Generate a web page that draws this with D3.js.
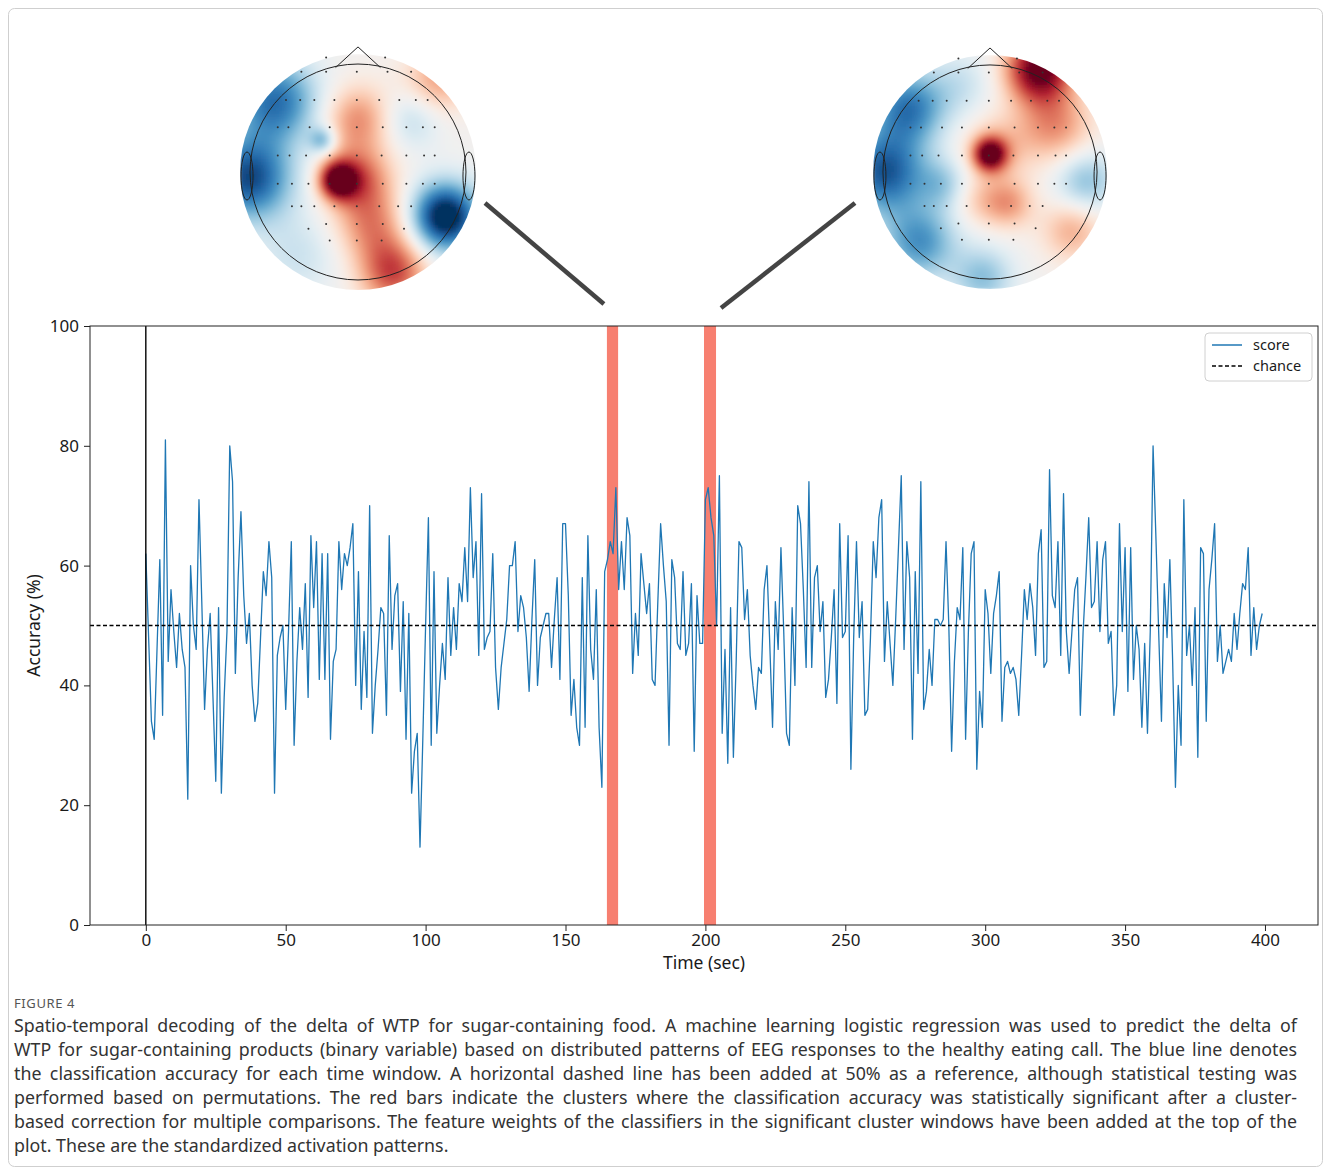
<!DOCTYPE html>
<html>
<head>
<meta charset="utf-8">
<script src="https://cdn.jsdelivr.net/npm/d3@7"></script>
<style>
  body { margin: 0; background: #fff; }
  svg text { font-family: "Noto Sans", "Open Sans", sans-serif; }
</style>
</head>
<body>
<svg id="fig" width="1331" height="1175"></svg>
<script>
// decoding accuracy, one value per second (0..399)
var times = d3.range(0, 400);
var score = [
  62,48,34,31,46,61,35,81,44,56,49,43,52,46,43,21,60,50,46,71,54,36,46,52,38,24,53,22,38,49,80,74,42,58,69,55,47,52,40,34,
  37,48,59,55,64,58,22,45,48,50,36,49,64,30,44,53,46,57,38,65,53,64,41,62,41,62,31,44,46,64,56,62,60,63,67,40,59,36,49,
  38,70,32,40,46,53,52,35,65,46,55,57,39,54,31,52,22,29,32,13,31,50,68,30,59,32,40,47,41,58,45,53,46,57,54,63,54,73,58,
  64,45,72,46,48,49,62,43,36,43,47,51,60,60,64,49,55,53,48,39,51,61,40,48,50,52,52,43,51,58,41,67,67,55,35,41,33,30,
  58,33,65,46,41,56,33,23,59,61,64,62,73,56,64,56,68,65,42,52,45,62,57,52,57,41,40,54,67,60,54,30,61,58,47,46,59,45,47,57,
  29,55,47,47,71,73,68,65,50,75,32,46,27,53,28,44,64,63,51,56,45,40,36,43,42,56,60,47,33,54,46,63,49,32,30,53,40,70,67,
  56,43,74,43,58,60,49,54,38,41,48,56,37,67,48,49,65,26,48,64,48,54,35,36,48,64,58,68,71,44,54,47,40,51,63,75,46,64,58,31,59,
  42,74,36,39,46,40,51,51,50,51,64,50,29,44,53,51,63,31,49,62,64,26,39,33,56,52,42,52,55,59,34,43,44,42,43,41,35,45,56,
  51,57,53,45,62,66,43,44,76,55,53,64,45,72,49,42,49,56,58,35,49,58,68,53,54,64,49,61,64,47,49,35,40,67,49,63,39,63,41,
  50,46,33,47,32,49,80,65,49,34,57,48,61,44,23,40,30,71,45,50,40,53,28,63,62,34,56,61,67,44,50,42,44,46,44,52,46,52,57,56,63,45,53,46,50,52
];
var chance = 50;
var clusterStart = [164.8, 199.5];
var clusterEnd = [168.8, 203.8];
var xTicks = [0, 50, 100, 150, 200, 250, 300, 350, 400];
var yTicks = [0, 20, 40, 60, 80, 100];

// topomap weights, as gaussian blobs: [x, y, amplitude, width] in head units
var leftBlobs = [
  [-0.17, 0.07, 1.0, 0.11], [0.0, 0.05, 0.55, 0.2], [0.0, -0.45, 0.45, 0.2],
  [0.12, 0.45, 0.45, 0.22], [0.3, 0.85, 0.65, 0.2], [0.74, 0.38, -1.15, 0.2],
  [-0.92, 0.05, -0.9, 0.25], [-0.7, -0.6, -0.75, 0.25], [-0.3, -0.27, -0.45, 0.08],
  [0.68, -0.78, 0.4, 0.2], [0.45, -0.45, -0.25, 0.18], [-0.5, 0.7, -0.2, 0.25]
];
var rightBlobs = [
  [0.42, -0.88, 1.05, 0.2], [0.55, -0.4, 0.45, 0.22], [0.0, -0.15, 0.95, 0.1],
  [0.05, -0.2, 0.3, 0.2], [0.16, 0.27, 0.4, 0.15], [-0.1, 0.25, 0.2, 0.15],
  [0.7, 0.5, 0.35, 0.18], [-0.9, 0.0, -0.85, 0.25], [-0.7, -0.55, -0.7, 0.22],
  [-0.6, 0.6, -0.6, 0.22], [0.82, 0.08, -0.4, 0.18], [-0.06, 0.9, -0.4, 0.18],
  [-0.4, 0.1, -0.3, 0.15], [-0.25, -0.75, -0.2, 0.2]
];
// electrode rows (y) and their x positions
var sensorRowY = [-0.97, -0.85, -0.61, -0.38, -0.14, 0.1, 0.29, 0.44, 0.48, 0.58];
var sensorRowX = [
  [-0.27, 0.23],
  [-0.48, -0.27, -0.01, 0.25, 0.45],
  [-0.61, -0.49, -0.37, -0.2, -0.01, 0.18, 0.35, 0.49, 0.59],
  [-0.68, -0.59, -0.41, -0.24, -0.01, 0.21, 0.41, 0.55, 0.65],
  [-0.68, -0.58, -0.44, -0.24, -0.01, 0.2, 0.41, 0.56, 0.65],
  [-0.68, -0.56, -0.42, -0.24, -0.01, 0.21, 0.41, 0.55, 0.65],
  [-0.56, -0.48, -0.37, -0.2, -0.01, 0.18, 0.34, 0.45],
  [-0.27, -0.01, 0.21],
  [-0.42, 0.39],
  [-0.24, -0.01, 0.2]
];

var captionTitle = "FIGURE 4";
var captionLines = [
  "Spatio-temporal decoding of the delta of WTP for sugar-containing food. A machine learning logistic regression was used to predict the delta of",
  "WTP for sugar-containing products (binary variable) based on distributed patterns of EEG responses to the healthy eating call. The blue line denotes",
  "the classification accuracy for each time window. A horizontal dashed line has been added at 50% as a reference, although statistical testing was",
  "performed based on permutations. The red bars indicate the clusters where the classification accuracy was statistically significant after a cluster-",
  "based correction for multiple comparisons. The feature weights of the classifiers in the significant cluster windows have been added at the top of the",
  "plot. These are the standardized activation patterns."
];

var svg = d3.select("#fig");

// outer frame
svg.append("rect")
  .attr("x", 8.5).attr("y", 8.5)
  .attr("width", 1314).attr("height", 1158)
  .attr("rx", 6)
  .attr("fill", "none")
  .attr("stroke", "#cfcfcf");

// plot area
var x = d3.scaleLinear().domain([-19.95, 418.95]).range([90, 1318]);
var y = d3.scaleLinear().domain([0, 100]).range([925, 326]);

var defs = svg.append("defs");
defs.append("clipPath").attr("id", "plotClip")
  .append("rect").attr("x", 90).attr("y", 326).attr("width", 1228).attr("height", 599);

var plot = svg.append("g").attr("clip-path", "url(#plotClip)");

// significant clusters
plot.selectAll(".cluster")
  .data(d3.range(clusterStart.length))
  .enter().append("rect")
    .attr("class", "cluster")
    .attr("x", function(i) { return x(clusterStart[i]); })
    .attr("width", function(i) { return x(clusterEnd[i]) - x(clusterStart[i]); })
    .attr("y", y(100))
    .attr("height", y(0) - y(100))
    .attr("fill", "#f77f70");

// score line
var line = d3.line()
  .x(function(d, i) { return x(times[i]); })
  .y(function(d) { return y(d); });

plot.append("path")
  .datum(score)
  .attr("d", line)
  .attr("fill", "none")
  .attr("stroke", "#1f77b4")
  .attr("stroke-width", 1.3)
  .attr("stroke-linejoin", "round");

// chance level
plot.append("line")
  .attr("x1", 90).attr("x2", 1318)
  .attr("y1", y(chance)).attr("y2", y(chance))
  .attr("stroke", "#000")
  .attr("stroke-width", 1.3)
  .attr("stroke-dasharray", "4,2.5");

// stimulus onset
plot.append("line")
  .attr("x1", x(0)).attr("x2", x(0))
  .attr("y1", y(0)).attr("y2", y(100))
  .attr("stroke", "#000")
  .attr("stroke-width", 1.4);

// axes
var xAxis = svg.append("g")
  .attr("transform", "translate(0," + y(0) + ")")
  .call(d3.axisBottom(x).tickValues(xTicks).tickSize(6).tickPadding(3).tickFormat(d3.format("d")));
var yAxis = svg.append("g")
  .attr("transform", "translate(90,0)")
  .call(d3.axisLeft(y).tickValues(yTicks).tickSize(6).tickPadding(5).tickFormat(d3.format("d")));

[xAxis, yAxis].forEach(function(ax) {
  ax.select(".domain").remove();
  ax.selectAll("text").attr("font-size", 17).attr("fill", "#1a1a1a")
    .attr("font-family", "Noto Sans, sans-serif");
  ax.selectAll("line").attr("stroke", "#222");
});

svg.append("rect")
  .attr("x", 90).attr("y", 326).attr("width", 1228).attr("height", 599)
  .attr("fill", "none").attr("stroke", "#222").attr("stroke-width", 1);

svg.append("text")
  .attr("x", (90 + 1318) / 2).attr("y", 969)
  .attr("text-anchor", "middle")
  .attr("font-size", 17.5).attr("fill", "#1a1a1a")
  .text("Time (sec)");

svg.append("text")
  .attr("transform", "translate(40," + y(50) + ") rotate(-90)")
  .attr("text-anchor", "middle")
  .attr("font-size", 17.5).attr("fill", "#1a1a1a")
  .text("Accuracy (%)");

// legend
var legend = svg.append("g").attr("transform", "translate(1205,333)");
legend.append("rect")
  .attr("width", 107).attr("height", 48).attr("rx", 4)
  .attr("fill", "#fff").attr("fill-opacity", 0.85)
  .attr("stroke", "#d0d0d0");
legend.append("line").attr("x1", 7).attr("x2", 37).attr("y1", 12).attr("y2", 12)
  .attr("stroke", "#1f77b4").attr("stroke-width", 1.5);
legend.append("line").attr("x1", 7).attr("x2", 37).attr("y1", 33).attr("y2", 33)
  .attr("stroke", "#000").attr("stroke-width", 1.5).attr("stroke-dasharray", "4,2.5");
legend.append("text").attr("x", 48).attr("y", 17).attr("font-size", 14.5).attr("fill", "#1a1a1a").text("score");
legend.append("text").attr("x", 48).attr("y", 38).attr("font-size", 14.5).attr("fill", "#1a1a1a").text("chance");

// topomaps
var color = function(v) { return d3.interpolateRdBu(0.5 - Math.max(-1, Math.min(1, v)) / 2); };

defs.append("filter").attr("id", "soft")
  .attr("x", "-5%").attr("y", "-5%").attr("width", "110%").attr("height", "110%")
  .append("feGaussianBlur").attr("stdDeviation", 1.6);

function drawTopomap(id, cx, cy, R, blobs) {
  var g = svg.append("g").attr("transform", "translate(" + cx + "," + cy + ")");
  defs.append("clipPath").attr("id", id)
    .append("circle").attr("r", R);

  var step = 3;
  var cells = [];
  for (var py = -R; py < R; py += step) {
    for (var px = -R; px < R; px += step) {
      var nx = (px + step / 2) / R, ny = (py + step / 2) / R;
      if (nx * nx + ny * ny > 1.08) continue;
      var v = 0;
      blobs.forEach(function(b) {
        var dx = nx - b[0], dy = ny - b[1];
        v += b[2] * Math.exp(-(dx * dx + dy * dy) / (2 * b[3] * b[3]));
      });
      cells.push({ x: px, y: py, v: v });
    }
  }
  g.append("g")
    .attr("clip-path", "url(#" + id + ")")
    .append("g").attr("filter", "url(#soft)")
    .selectAll("rect")
    .data(cells)
    .enter().append("rect")
      .attr("x", function(d) { return d.x; })
      .attr("y", function(d) { return d.y; })
      .attr("width", step + 0.6).attr("height", step + 0.6)
      .attr("fill", function(d) { return color(d.v); });

  // electrodes
  sensorRowY.forEach(function(sy, r) {
    g.selectAll(null)
      .data(sensorRowX[r])
      .enter().append("circle")
        .attr("cx", function(sx) { return sx * R; })
        .attr("cy", sy * R)
        .attr("r", 1)
        .attr("fill", "#333");
  });

  // head outline, nose, ears
  var hr = R * 0.915;
  g.append("circle").attr("r", hr).attr("fill", "none").attr("stroke", "#222").attr("stroke-width", 1);
  g.append("path")
    .attr("d", "M" + (-0.19 * R) + "," + (-0.885 * R) + " L0," + (-1.06 * R) + " L" + (0.19 * R) + "," + (-0.885 * R))
    .attr("fill", "none").attr("stroke", "#222").attr("stroke-width", 1);
  [-1, 1].forEach(function(s) {
    g.append("ellipse")
      .attr("cx", s * (hr + 3)).attr("cy", 4)
      .attr("rx", 6).attr("ry", 24)
      .attr("fill", "none").attr("stroke", "#222").attr("stroke-width", 1);
  });
}

drawTopomap("headL", 358, 172, 118, leftBlobs);
drawTopomap("headR", 990, 172, 117, rightBlobs);

// pointers from the topomaps to the clusters
svg.append("line")
  .attr("x1", 485).attr("y1", 203)
  .attr("x2", x(clusterStart[0]) - 3).attr("y2", 304)
  .attr("stroke", "#444").attr("stroke-width", 4.5);
svg.append("line")
  .attr("x1", 855).attr("y1", 203)
  .attr("x2", x(clusterEnd[1]) + 5).attr("y2", 308)
  .attr("stroke", "#444").attr("stroke-width", 4.5);

// caption
svg.append("text")
  .attr("x", 14).attr("y", 1008)
  .attr("font-size", 13).attr("fill", "#555")
  .attr("letter-spacing", 0.6)
  .text(captionTitle);

var capLeft = 14, capRight = 1297;
captionLines.forEach(function(t, i) {
  var txt = svg.append("text")
    .attr("x", capLeft).attr("y", 1032 + i * 24)
    .attr("font-size", 17.8).attr("fill", "#333")
    .text(t);
  if (i < captionLines.length - 1) {
    var w = txt.node().getComputedTextLength();
    var spaces = (t.match(/ /g) || []).length;
    if (spaces > 0) txt.attr("word-spacing", (capRight - capLeft - w) / spaces);
  }
});
</script>
</body>
</html>
